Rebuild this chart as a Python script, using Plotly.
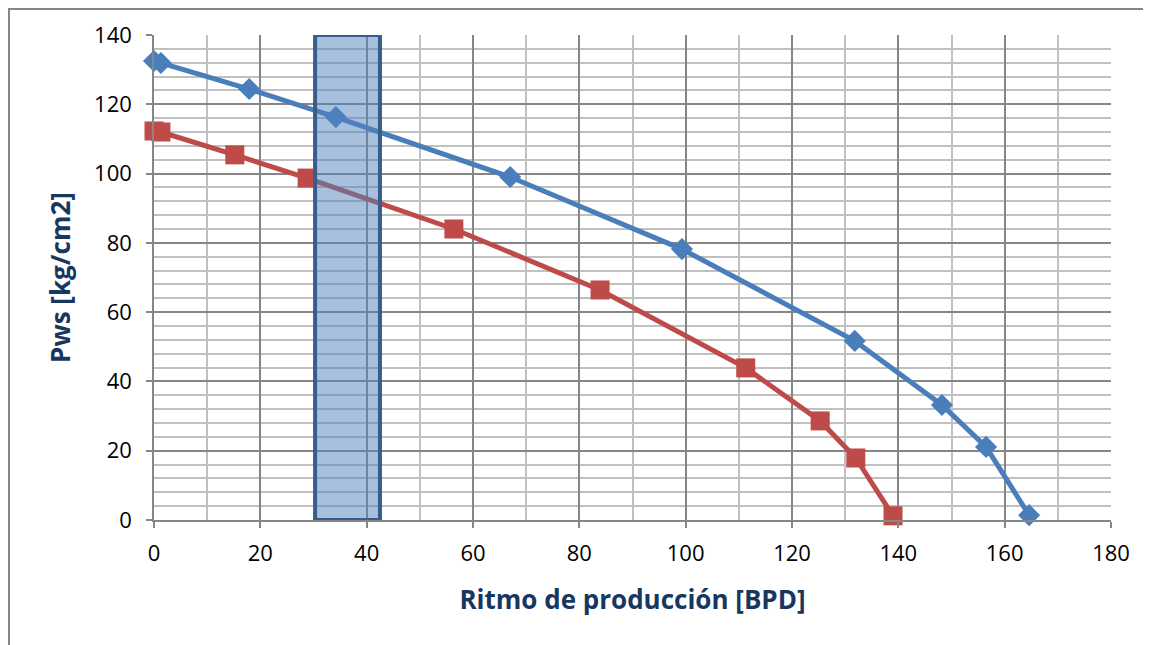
import plotly.graph_objects as go

# Blue series (diamonds)
q_blue = [0, 1.3, 17.9, 34.2, 67.0, 99.3, 131.8, 148.2, 156.5, 164.6]
p_blue = [132.5, 131.9, 124.4, 116.3, 99.0, 78.2, 51.7, 33.2, 21.1, 1.4]
# Red series (squares)
q_red = [0, 1.3, 15.2, 28.8, 56.4, 83.9, 111.3, 125.3, 132.0, 139.0]
p_red = [112.3, 112.0, 105.4, 98.7, 84.0, 66.4, 43.9, 28.6, 17.9, 1.2]
# Highlighted production range
band_x = [30.3, 42.5]
band_y = [0, 140]

x_ticks = [0, 20, 40, 60, 80, 100, 120, 140, 160, 180]
y_ticks = [0, 20, 40, 60, 80, 100, 120, 140]

FONT = "Open Sans"
W, H = 1151, 645
ML, MR, MT, MB = 146, 48, 27, 133
PW = W - ML - MR
PH = H - MT - MB

fig = go.Figure()
fig.add_trace(go.Scatter(x=q_blue, y=p_blue, mode="lines+markers",
                         line=dict(color="#4a7ebb", width=5),
                         marker=dict(symbol="diamond", size=17, color="#4a7ebb"),
                         showlegend=False, cliponaxis=False))
fig.add_trace(go.Scatter(x=q_red, y=p_red, mode="lines+markers",
                         line=dict(color="#be4b48", width=5),
                         marker=dict(symbol="square", size=19, color="#be4b48"),
                         showlegend=False, cliponaxis=False))

fig.add_shape(type="rect", xref="x", yref="y",
              x0=band_x[0], x1=band_x[1], y0=band_y[0], y1=band_y[1],
              fillcolor="rgba(79,129,189,0.5)",
              line=dict(color="#385d8a", width=4), layer="above")

# outer chart border (top/left visible)
fig.add_shape(type="rect", xref="paper", yref="paper",
              x0=(1 - ML) / PW, x1=(W + 30 - ML) / PW,
              y0=-(MB + 30) / PH, y1=(PH + MT - 1) / PH,
              line=dict(color="#868686", width=2), fillcolor="rgba(0,0,0,0)",
              layer="below")

axis_common = dict(showgrid=True, gridcolor="#868686", gridwidth=1.5,
                   showline=True, linecolor="#868686", linewidth=1.5,
                   ticks="outside", ticklen=6, tickcolor="#868686", tickwidth=1.5,
                   zeroline=False, mirror=False,
                   tickfont=dict(family=FONT, size=22, color="#000000"))

fig.update_xaxes(range=[0, 180], tickvals=x_ticks, ticktext=[str(v) for v in x_ticks],
                 ticklabelstandoff=7,
                 minor=dict(dtick=10, tick0=0, showgrid=True, gridcolor="#c0c0c0", gridwidth=1.5),
                 title=dict(text="<b>Ritmo de producción [BPD]</b>",
                            font=dict(family=FONT, size=26, color="#17375e"), standoff=25),
                 **axis_common)
fig.update_yaxes(range=[0, 140], tickvals=y_ticks, ticktext=[str(v) for v in y_ticks],
                 ticklabelstandoff=10,
                 minor=dict(dtick=4, tick0=0, showgrid=True, gridcolor="#c0c0c0", gridwidth=1.5),
                 title=dict(text="<b>Pws [kg/cm2]</b>",
                            font=dict(family=FONT, size=26, color="#17375e"), standoff=16),
                 **axis_common)

fig.update_layout(width=W, height=H,
                  margin=dict(l=ML, r=MR, t=MT, b=MB),
                  plot_bgcolor="white", paper_bgcolor="white",
                  font=dict(family=FONT))

fig.write_html("out.html")
